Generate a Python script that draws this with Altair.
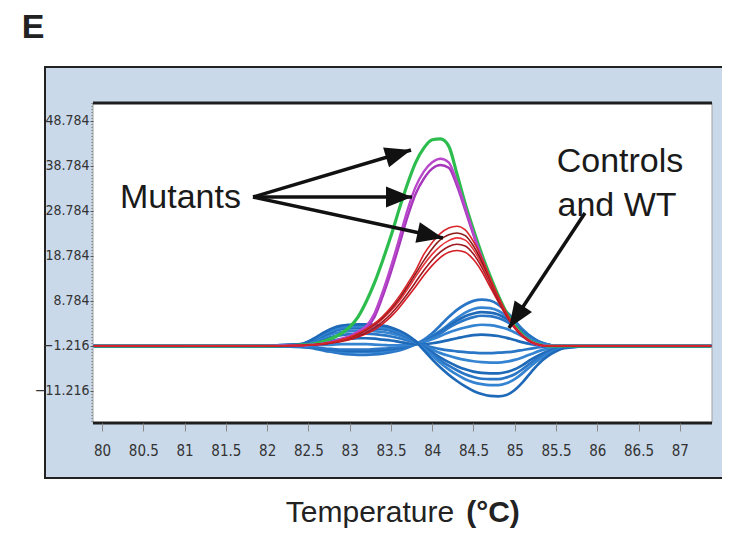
import math
import altair as alt
import pandas as pd

# ------------------------------------------------------------------ data
TEMPS = [79.9, 81.0, 82.0, 82.4, 82.5, 82.6, 82.7, 82.8, 82.9, 83.0,
         83.1, 83.2, 83.3, 83.4, 83.5, 83.6, 83.7, 83.8, 83.9, 84.0,
         84.1, 84.2, 84.3, 84.4, 84.5, 84.6, 84.7, 84.8, 84.9, 85.0,
         85.1, 85.2, 85.3, 85.4, 85.5, 85.6, 86.0, 87.38]

GREEN_1 = [-1.2, -1.2, -1.2, -1.0, -0.9, -0.6, -0.1, 0.6, 1.6, 3.0,
           5.2, 8.6, 12.8, 17.8, 23.2, 29.2, 34.8, 39.6, 42.8, 44.6,
           44.8, 43.2, 37.0, 30.4, 24.6, 19.2, 14.4, 10.0, 6.2, 3.4,
           1.2, -0.2, -0.9, -1.2, -1.2, -1.2, -1.2, -1.2]

PURPLE_1 = [-1.2, -1.2, -1.2, -1.1, -1.0, -0.9, -0.6, -0.2, 0.4, 1.0,
            2.0, 3.2, 6.0, 10.8, 16.4, 22.6, 29.0, 34.2, 37.6, 39.6,
            40.4, 39.6, 35.2, 29.6, 23.8, 18.4, 13.6, 9.4, 5.8, 3.0,
            1.0, -0.3, -1.0, -1.2, -1.2, -1.2, -1.2, -1.2]
PURPLE_2 = [-1.2, -1.2, -1.2, -1.1, -1.0, -0.9, -0.7, -0.3, 0.2, 0.8,
            1.7, 2.8, 5.2, 9.8, 15.2, 21.2, 27.4, 32.6, 36.0, 38.2,
            39.0, 38.4, 34.4, 29.0, 23.4, 18.1, 13.4, 9.2, 5.7, 2.9,
            0.9, -0.4, -1.0, -1.2, -1.2, -1.2, -1.2, -1.2]

RED_1 = [-1.2, -1.2, -1.2, -1.1, -1.0, -0.9, -0.6, -0.3, 0.2, 0.8,
         1.6, 2.6, 3.8, 5.4, 7.4, 9.8, 12.6, 15.6, 19.2, 21.8,
         23.8, 25.0, 25.4, 24.6, 22.0, 18.4, 14.0, 9.8, 6.1, 3.0,
         1.0, -0.3, -1.0, -1.2, -1.2, -1.2, -1.2, -1.2]
RED_2 = [-1.2, -1.2, -1.2, -1.1, -1.0, -0.9, -0.7, -0.4, 0.0, 0.6,
         1.3, 2.2, 3.3, 4.8, 6.6, 8.8, 11.4, 14.2, 16.9, 19.2,
         21.0, 22.2, 22.8, 22.3, 20.2, 17.0, 13.2, 9.4, 5.9, 3.0,
         1.0, -0.3, -1.0, -1.2, -1.2, -1.2, -1.2, -1.2]
RED_3 = [-1.2, -1.2, -1.2, -1.1, -1.0, -0.9, -0.7, -0.5, -0.1, 0.4,
         1.0, 1.8, 2.8, 4.2, 5.9, 8.0, 10.4, 13.0, 15.6, 17.9,
         19.7, 20.9, 21.4, 21.0, 19.2, 16.3, 12.7, 9.0, 5.7, 2.9,
         0.9, -0.3, -1.0, -1.2, -1.2, -1.2, -1.2, -1.2]
RED_4 = [-1.2, -1.2, -1.2, -1.1, -1.0, -0.9, -0.8, -0.5, -0.2, 0.2,
         0.8, 1.5, 2.4, 3.7, 5.3, 7.3, 9.6, 12.0, 14.5, 16.7,
         18.5, 19.6, 20.0, 19.6, 18.0, 15.4, 12.0, 8.6, 5.4, 2.7,
         0.8, -0.4, -1.0, -1.2, -1.2, -1.2, -1.2, -1.2]
RED_5 = [-1.2, -1.2, -1.2, -1.1, -1.0, -0.9, -0.7, -0.4, 0.1, 0.7,
         1.4, 2.4, 3.6, 5.1, 7.0, 9.3, 12.0, 14.9, 17.8, 20.4,
         22.4, 23.5, 23.9, 23.3, 21.0, 17.6, 13.6, 9.6, 6.0, 3.0,
         1.0, -0.3, -1.0, -1.2, -1.2, -1.2, -1.2, -1.2]

BLUE_1 = [-1.2, -1.2, -1.3, -1.4, -1.6, -1.9, -2.3, -2.6, -2.9, -3.1,
          -3.2, -3.2, -3.1, -2.9, -2.6, -2.2, -1.6, -0.8, 0.2, 1.6,
          3.4, 5.2, 6.8, 8.0, 8.8, 9.1, 8.9, 8.0, 6.4, 4.4,
          2.4, 0.8, -0.4, -1.0, -1.2, -1.2, -1.2, -1.2]
BLUE_2 = [-1.2, -1.2, -1.3, -1.4, -1.5, -1.7, -2.0, -2.3, -2.5, -2.6,
          -2.6, -2.6, -2.5, -2.4, -2.2, -1.9, -1.4, -0.8, 0.0, 1.0,
          2.2, 3.6, 5.0, 6.2, 7.0, 7.3, 7.2, 6.6, 5.4, 3.8,
          2.2, 0.8, -0.3, -0.9, -1.2, -1.2, -1.2, -1.2]
BLUE_3 = [-1.2, -1.2, -1.3, -1.3, -1.5, -1.7, -1.9, -2.1, -2.2, -2.3,
          -2.3, -2.3, -2.2, -2.1, -1.9, -1.7, -1.3, -0.8, -0.1, 0.8,
          1.9, 3.2, 4.4, 5.4, 6.0, 6.3, 6.2, 5.8, 4.8, 3.4,
          2.0, 0.7, -0.3, -0.9, -1.2, -1.2, -1.2, -1.2]
BLUE_4 = [-1.2, -1.2, -1.2, -1.3, -1.4, -1.6, -1.8, -1.9, -2.0, -2.0,
          -2.0, -2.0, -1.9, -1.8, -1.7, -1.5, -1.2, -0.8, -0.2, 0.6,
          1.6, 2.8, 3.8, 4.6, 5.2, 5.5, 5.4, 5.0, 4.2, 3.0,
          1.8, 0.6, -0.3, -0.9, -1.2, -1.2, -1.2, -1.2]
BLUE_5 = [-1.2, -1.2, -1.2, -1.2, -1.2, -1.1, -1.0, -0.9, -0.8, -0.8,
          -0.8, -0.8, -0.9, -1.0, -1.1, -1.1, -1.0, -0.7, -0.3, 0.3,
          1.0, 1.8, 2.4, 2.9, 3.3, 3.5, 3.4, 3.1, 2.6, 1.8,
          0.9, 0.1, -0.6, -1.0, -1.2, -1.2, -1.2, -1.2]
BLUE_6 = [-1.2, -1.2, -1.2, -1.1, -1.0, -0.7, -0.3, 0.0, 0.3, 0.4,
          0.5, 0.5, 0.4, 0.2, 0.0, -0.3, -0.6, -0.8, -0.8, -0.6,
          -0.3, 0.1, 0.5, 0.9, 1.2, 1.3, 1.2, 1.0, 0.6, 0.1,
          -0.4, -0.8, -1.1, -1.2, -1.2, -1.2, -1.2, -1.2]
BLUE_7 = [-1.2, -1.2, -1.2, -1.0, -0.7, -0.2, 0.4, 0.9, 1.2, 1.4,
          1.5, 1.5, 1.4, 1.2, 0.9, 0.5, 0.0, -0.5, -1.0, -1.5,
          -1.9, -2.2, -2.4, -2.6, -2.7, -2.8, -2.8, -2.7, -2.6, -2.4,
          -2.1, -1.8, -1.5, -1.3, -1.2, -1.2, -1.2, -1.2]
BLUE_8 = [-1.2, -1.2, -1.2, -1.0, -0.5, 0.2, 0.9, 1.5, 1.9, 2.1,
          2.2, 2.2, 2.1, 1.9, 1.6, 1.1, 0.4, -0.4, -1.2, -2.0,
          -2.8, -3.4, -3.9, -4.3, -4.6, -4.8, -4.9, -4.9, -4.7, -4.3,
          -3.7, -3.0, -2.3, -1.8, -1.4, -1.2, -1.2, -1.2]
BLUE_9 = [-1.2, -1.2, -1.1, -0.9, -0.4, 0.4, 1.3, 2.0, 2.5, 2.7,
          2.8, 2.8, 2.7, 2.5, 2.2, 1.6, 0.8, -0.2, -1.4, -2.6,
          -3.8, -4.8, -5.7, -6.4, -6.9, -7.2, -7.3, -7.3, -7.0, -6.4,
          -5.4, -4.2, -3.2, -2.4, -1.8, -1.4, -1.2, -1.2]
BLUE_10 = [-1.2, -1.2, -1.1, -0.9, -0.4, 0.5, 1.4, 2.2, 2.7, 2.9,
           3.0, 3.0, 2.9, 2.7, 2.3, 1.7, 0.9, -0.2, -1.6, -3.0,
           -4.4, -5.6, -6.6, -7.5, -8.1, -8.5, -8.6, -8.6, -8.2, -7.5,
           -6.3, -4.9, -3.7, -2.7, -2.0, -1.5, -1.2, -1.2]
BLUE_11 = [-1.2, -1.2, -1.1, -0.9, -0.3, 0.6, 1.6, 2.4, 2.9, 3.1,
           3.2, 3.2, 3.1, 2.9, 2.5, 1.9, 1.0, -0.2, -1.8, -3.4,
           -5.0, -6.4, -7.6, -8.6, -9.3, -9.7, -9.9, -9.9, -9.5, -8.6,
           -7.2, -5.6, -4.2, -3.1, -2.2, -1.6, -1.2, -1.2]
BLUE_12 = [-1.2, -1.2, -1.1, -0.8, -0.2, 0.8, 1.9, 2.8, 3.3, 3.5,
           3.6, 3.6, 3.5, 3.3, 2.9, 2.2, 1.2, -0.2, -2.2, -4.2,
           -6.0, -7.6, -9.0, -10.2, -11.2, -11.9, -12.3, -12.4, -12.1, -11.0,
           -9.2, -7.0, -5.0, -3.5, -2.4, -1.7, -1.2, -1.2]

BLUE_CURVES = [BLUE_1, BLUE_2, BLUE_3, BLUE_4, BLUE_5, BLUE_6,
               BLUE_7, BLUE_8, BLUE_9, BLUE_10, BLUE_11, BLUE_12]
BLUE_COLORS = ["#2a76c6", "#3584d2", "#1f6ab8", "#2a76c6", "#3584d2", "#1f6ab8",
               "#2a76c6", "#3584d2", "#1f6ab8", "#2a76c6", "#3584d2", "#1f6ab8"]
RED_CURVES = [RED_4, RED_3, RED_2, RED_5, RED_1]
RED_COLORS = ["#d41c24", "#9c1820", "#e8323a", "#8e1b1b", "#d9262c"]
PURPLE_CURVES = [PURPLE_2, PURPLE_1]
PURPLE_COLORS = ["#a636bb", "#b847cb"]
GREEN_CURVES = [GREEN_1]
GREEN_COLORS = ["#2dbd4e"]

Y_TICKS = [48.784, 38.784, 28.784, 18.784, 8.784, -1.216, -11.216]
X_TICKS = [80, 80.5, 81, 81.5, 82, 82.5, 83, 83.5, 84, 84.5, 85, 85.5, 86, 86.5, 87]
X_DOMAIN = [79.89, 87.39]
Y_DOMAIN = [-18.33, 52.78]

ANNOT_TEXT = ["Mutants", "Controls", "and WT"]
ANNOT_T = [80.95, 86.275, 86.239]
ANNOT_V = [31.67, 39.67, 29.89]

ARROW_FROM_T = [81.829, 81.829, 81.829, 85.851]
ARROW_FROM_V = [31.89, 31.89, 31.89, 28.34]
ARROW_TO_T = [83.743, 83.755, 84.131, 84.930]
ARROW_TO_V = [42.34, 31.89, 22.78, 2.78]

# ------------------------------------------------------------------ layout
W, H = 619, 320
COND = "DejaVu Sans Condensed, Liberation Sans Narrow, Roboto, sans-serif"
SANS = "Liberation Sans, Arial, sans-serif"

for c in BLUE_CURVES + RED_CURVES + PURPLE_CURVES + GREEN_CURVES:
    assert len(c) == len(TEMPS)


def frame(curves, colors, prefix):
    rows = []
    for i, vals in enumerate(curves):
        for t, v in zip(TEMPS, vals):
            rows.append({"T": t, "v": v, "curve": f"{prefix}{i}", "col": colors[i]})
    return pd.DataFrame(rows)


XS = alt.Scale(domain=X_DOMAIN, nice=False, zero=False)
YS = alt.Scale(domain=Y_DOMAIN, nice=False, zero=False)
XAXIS = alt.Axis(values=X_TICKS, format="~g", title=None, grid=False, domain=False,
                 ticks=True, tickSize=8, tickColor="#8a8a8a", tickWidth=1,
                 labelFont=COND, labelFontSize=15, labelColor="#333333",
                 labelPadding=12, labelOverlap=False, labelFlush=False, zindex=1)
YAXIS = alt.Axis(values=Y_TICKS, format=".3f", title=None, grid=False, domain=False,
                 ticks=True, tickSize=3, tickColor="#555555", tickWidth=1,
                 labelFont=COND, labelFontSize=14, labelColor="#333333",
                 labelPadding=1, labelOverlap=False, labelFlush=False, zindex=1)


def X(f):
    return alt.X(f, type="quantitative", scale=XS, axis=XAXIS)


def Y(f):
    return alt.Y(f, type="quantitative", scale=YS, axis=YAXIS)


def one():
    return alt.Data(values=[{"k": 0}])


layers = []

# outer light-blue panel and white plot area
layers.append(alt.Chart(one()).mark_rect(fill="#c9d9ea", stroke="#222222", strokeWidth=2).encode(
    x=alt.value(-48), x2=alt.value(680), y=alt.value(-36), y2=alt.value(375)))
layers.append(alt.Chart(one()).mark_rect(fill="white", stroke="#a0a0a0", strokeWidth=1).encode(
    x=alt.value(0), x2=alt.value(W), y=alt.value(0), y2=alt.value(H)))
layers.append(alt.Chart(one()).mark_rule(color="#666666", strokeWidth=1, strokeDash=[1, 2]).encode(
    x=alt.value(-1), y=alt.value(0), y2=alt.value(H)))

# curves
for curves, colors, prefix, sw in [(BLUE_CURVES, BLUE_COLORS, "b", 2.7),
                                   (GREEN_CURVES, GREEN_COLORS, "g", 3.2),
                                   (PURPLE_CURVES, PURPLE_COLORS, "p", 2.4),
                                   (RED_CURVES, RED_COLORS, "r", 1.6)]:
    df = frame(curves, colors, prefix)
    layers.append(alt.Chart(df).mark_line(strokeWidth=sw, interpolate="monotone").encode(
        x=X("T"), y=Y("v"), detail="curve:N",
        color=alt.Color("col:N", scale=None, legend=None)))

# plot borders (top / bottom)
layers.append(alt.Chart(one()).mark_rule(color="#1e1e1e", strokeWidth=3).encode(
    x=alt.value(0), x2=alt.value(W), y=alt.value(0)))
layers.append(alt.Chart(one()).mark_rule(color="#1e1e1e", strokeWidth=3).encode(
    x=alt.value(0), x2=alt.value(W), y=alt.value(H)))

# annotations
ann = pd.DataFrame({"text": ANNOT_TEXT, "T": ANNOT_T, "v": ANNOT_V})
layers.append(alt.Chart(ann).mark_text(font=SANS, fontSize=34, color="#1a1a1a",
                                       align="center", baseline="middle").encode(
    x=X("T"), y=Y("v"), text="text:N"))

px_t = W / (X_DOMAIN[1] - X_DOMAIN[0])
px_v = H / (Y_DOMAIN[1] - Y_DOMAIN[0])
angles = []
for t1, v1, t2, v2 in zip(ARROW_FROM_T, ARROW_FROM_V, ARROW_TO_T, ARROW_TO_V):
    a = math.degrees(math.atan2(-(v2 - v1) * px_v, (t2 - t1) * px_t)) % 360
    angles.append(a)
arr = pd.DataFrame({"T": ARROW_FROM_T, "v": ARROW_FROM_V, "T2": ARROW_TO_T,
                    "v2": ARROW_TO_V, "ang": angles})
layers.append(alt.Chart(arr).mark_rule(color="#111111", strokeWidth=3.5).encode(
    x=X("T"), y=Y("v"), x2="T2:Q", y2="v2:Q"))
layers.append(alt.Chart(arr).mark_point(shape="M0,0L-1,-0.4L-1,0.4Z", filled=True,
                                        size=2704, color="#111111", opacity=1).encode(
    x=X("T2"), y=Y("v2"), angle=alt.Angle("ang:Q", scale=None)))

# panel letter and axis title
layers.append(alt.Chart(one()).mark_text(text="E", font=SANS, fontSize=34, fontWeight="bold",
                                         color="#222222", align="center", baseline="middle").encode(
    x=alt.value(-60), y=alt.value(-75)))
layers.append(alt.Chart(one()).mark_text(text="Temperature", font=SANS, fontSize=30,
                                         color="#222222", align="center", baseline="middle").encode(
    x=alt.value(277), y=alt.value(410)))
layers.append(alt.Chart(one()).mark_text(text="(°C)", font=SANS, fontSize=30, fontWeight="bold",
                                         color="#222222", align="center", baseline="middle").encode(
    x=alt.value(400), y=alt.value(410)))

chart = alt.layer(*layers).properties(
    width=W, height=H,
    padding={"left": 85, "top": 95, "right": 10, "bottom": 107},
    autosize=alt.AutoSizeParams(type="none"),
    background="white",
).configure_view(strokeWidth=0)

chart.save("out.html", embed_options={"renderer": "svg", "actions": False})
